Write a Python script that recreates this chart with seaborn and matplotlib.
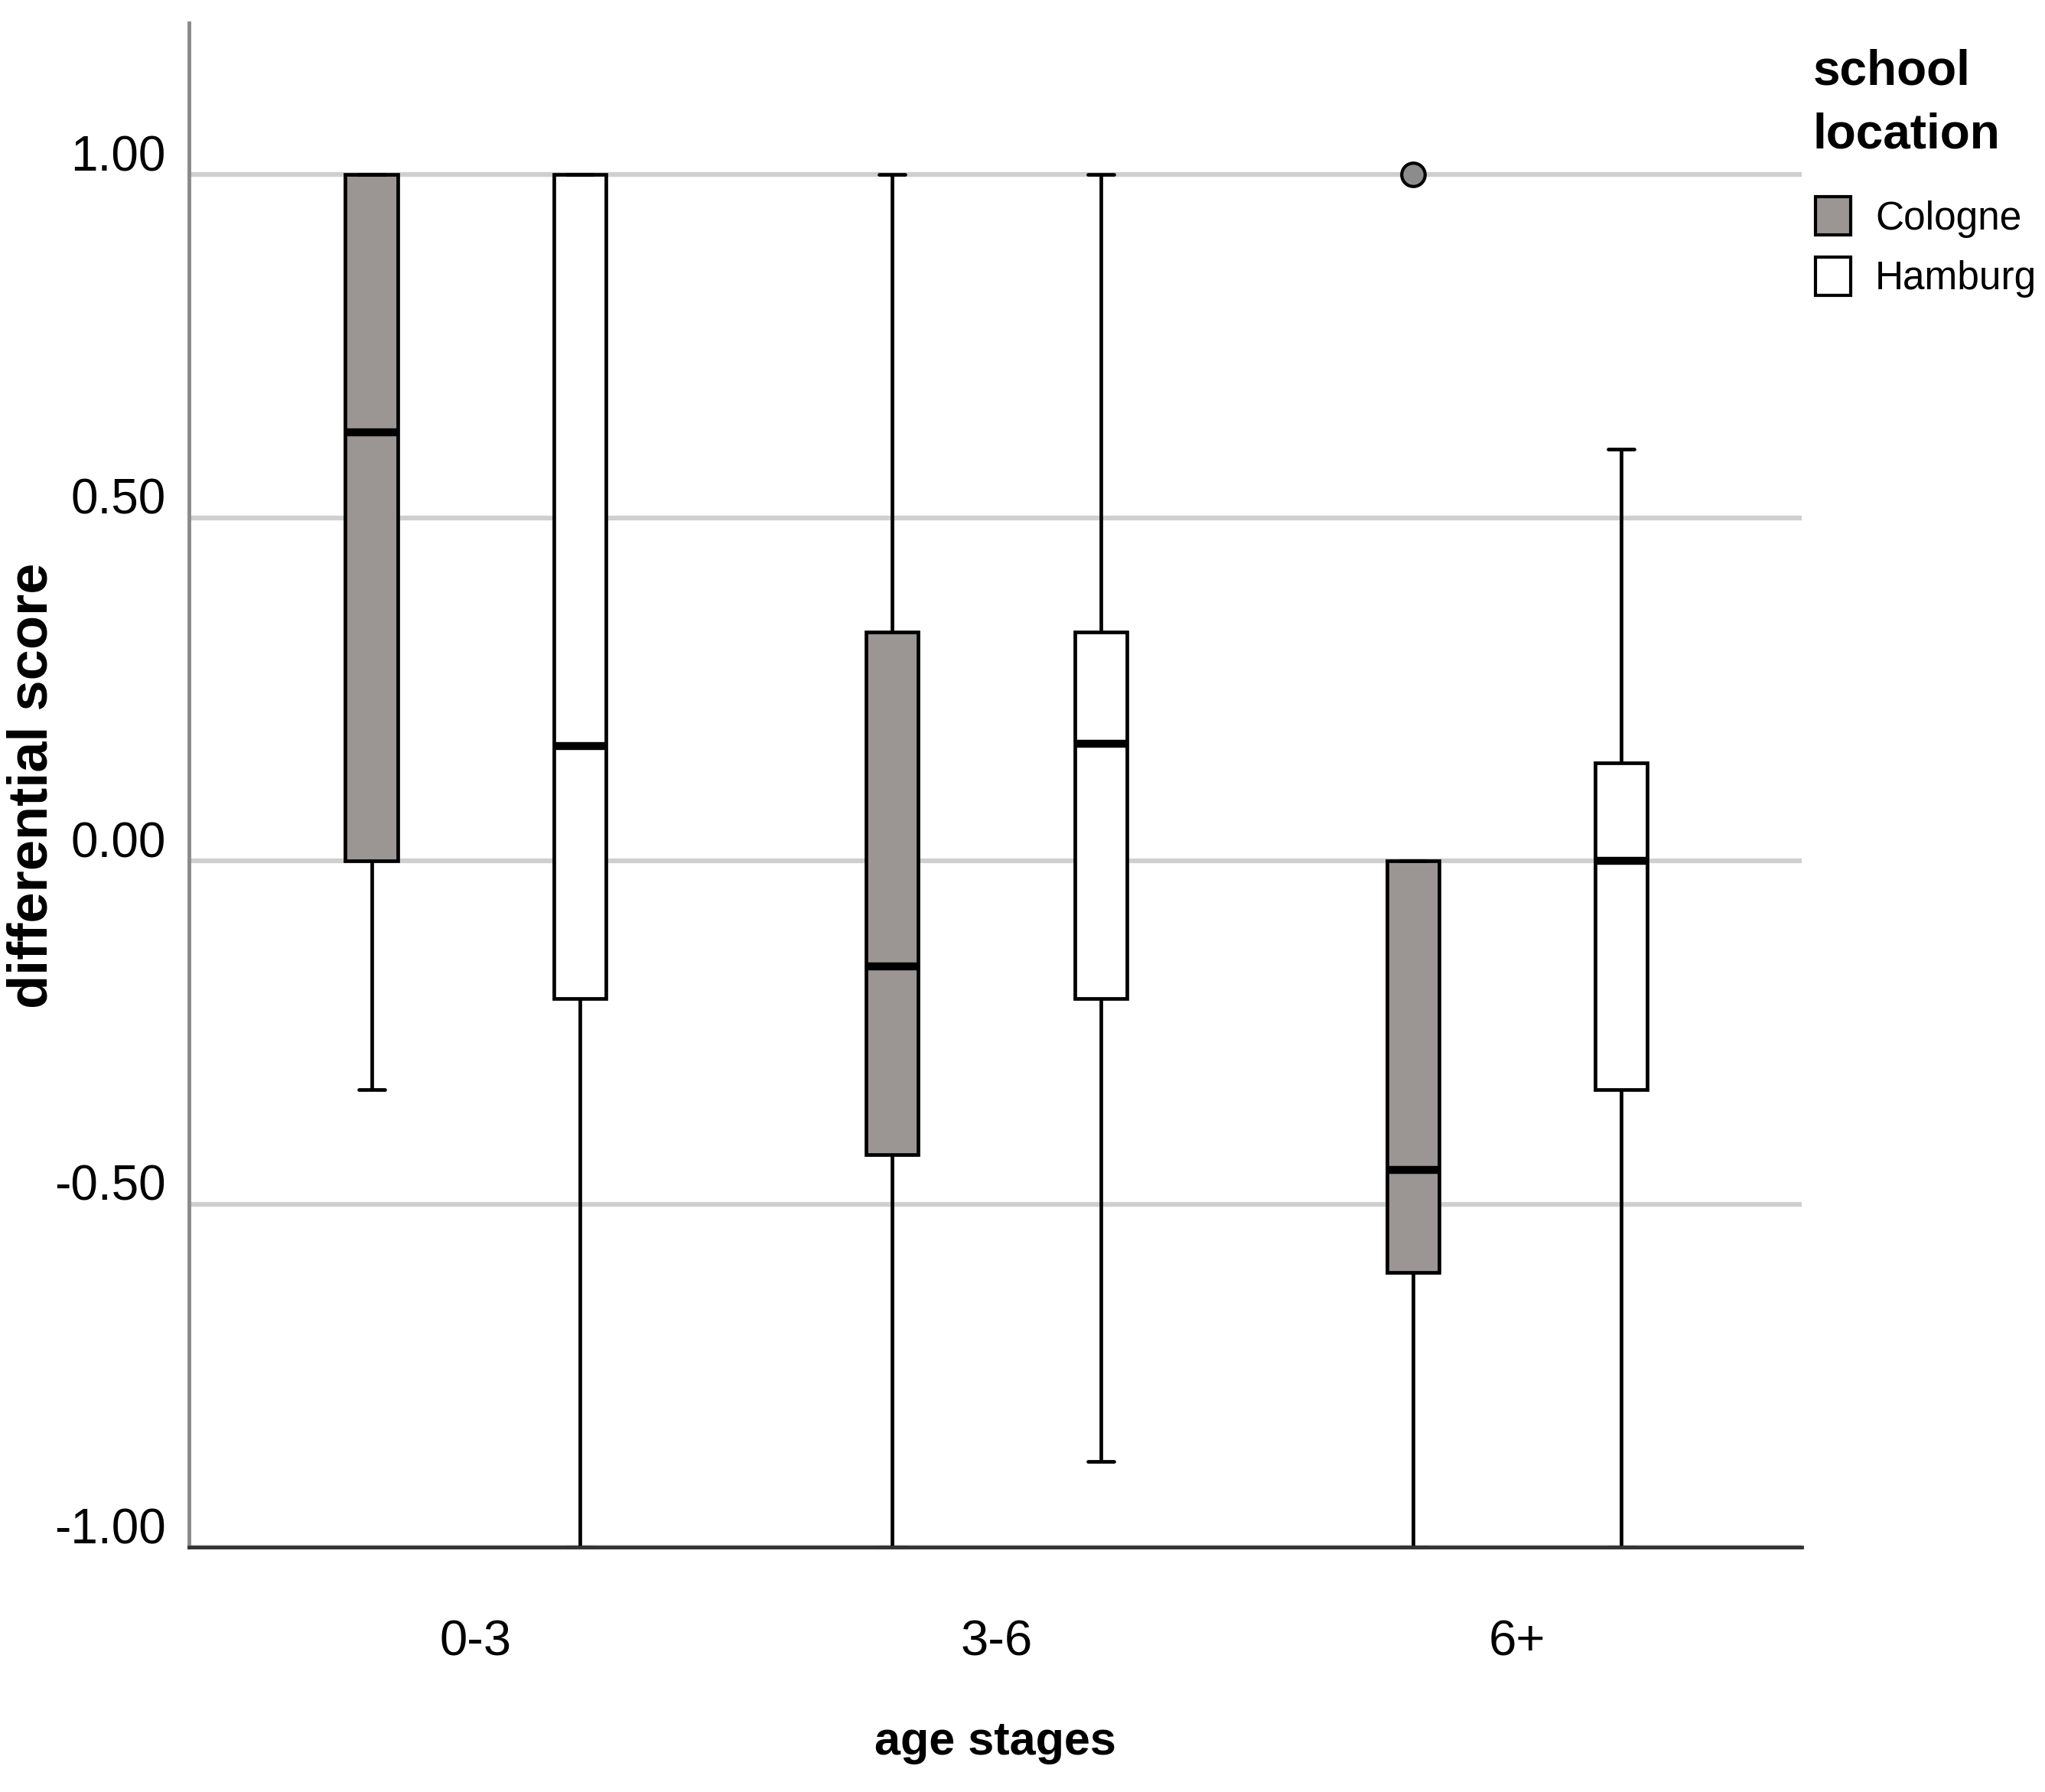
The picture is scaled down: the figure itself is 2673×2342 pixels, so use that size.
import numpy as np
import pandas as pd
import matplotlib
matplotlib.use("Agg")
import matplotlib.pyplot as plt
from matplotlib.transforms import ScaledTranslation
from matplotlib.patches import Patch
import seaborn as sns

# ---- data ----
age_stages = ["0-3", "3-6", "6+"]
locations = ["Cologne", "Hamburg"]
# samples per group: [low whisker, q1, median, q3, high whisker/outlier]
cologne_0_3 = [-0.333, 0.0, 0.625, 1.0, 1.0]
hamburg_0_3 = [-1.0, -0.2, 0.167, 1.0, 1.0]
cologne_3_6 = [-1.0, -0.428, -0.154, 0.333, 1.0]
hamburg_3_6 = [-0.875, -0.2, 0.171, 0.333, 1.0]
cologne_6p = [-1.0, -0.6, -0.45, 0.0, 1.0]
hamburg_6p = [-1.0, -0.333, 0.0, 0.143, 0.6]
y_ticks = [-1.0, -0.5, 0.0, 0.5, 1.0]
y_tick_labels = ["-1.00", "-0.50", "0.00", "0.50", "1.00"]

groups = {
    ("0-3", "Cologne"): cologne_0_3,
    ("0-3", "Hamburg"): hamburg_0_3,
    ("3-6", "Cologne"): cologne_3_6,
    ("3-6", "Hamburg"): hamburg_3_6,
    ("6+", "Cologne"): cologne_6p,
    ("6+", "Hamburg"): hamburg_6p,
}
rows = []
for (age, loc), vals in groups.items():
    for v in vals:
        rows.append({"age stages": age, "school location": loc, "differential score": v})
df = pd.DataFrame(rows)

sns.set_style("white")
plt.rcParams["font.family"] = ["Liberation Sans", "DejaVu Sans"]
plt.rcParams["text.color"] = "black"
plt.rcParams["axes.labelcolor"] = "black"
plt.rcParams["xtick.color"] = "black"
plt.rcParams["ytick.color"] = "black"

W, H = 2673, 2342
dpi = 100
fig = plt.figure(figsize=(W / dpi, H / dpi), dpi=dpi)
ax = fig.add_axes([0.0925, 0.1366, 0.881 - 0.0925, 0.987 - 0.1366])

palette = {"Cologne": "#9b9593", "Hamburg": "#ffffff"}
sns.boxplot(
    data=df, x="age stages", y="differential score", hue="school location",
    order=age_stages, hue_order=locations,
    palette=palette,
    width=0.8, gap=0.75, whis=1.5,
    linecolor="black", linewidth=3.4,
    fliersize=22,
    flierprops=dict(marker="o", markerfacecolor="#8c8c8c",
                    markeredgecolor="black", markeredgewidth=3),
    medianprops=dict(linewidth=7.5, color="black"),
    saturation=1.0,
    legend=False,
    ax=ax,
)

ax.set_xlim(-0.55, 2.546)
ax.set_ylim(-1.0, 1.2205)
ax.set_yticks(y_ticks)
ax.set_yticklabels(y_tick_labels)
ax.yaxis.grid(True, color="#cfcfcf", linewidth=4.5)
ax.xaxis.grid(False)
ax.set_axisbelow(True)

for s in ["top", "right"]:
    ax.spines[s].set_visible(False)
ax.spines["left"].set_color("#8a8a8a")
ax.spines["left"].set_linewidth(3.5)
ax.spines["bottom"].set_color("#333333")
ax.spines["bottom"].set_linewidth(3.5)

ax.tick_params(axis="both", length=0)
ax.tick_params(axis="y", pad=22)
ax.tick_params(axis="x", pad=68)
lift = ScaledTranslation(0, 5 / dpi, fig.dpi_scale_trans)
for t in ax.get_yticklabels():
    t.set_fontsize(46)
    t.set_va("baseline")
    t.set_transform(t.get_transform() + lift)
for t in ax.get_xticklabels():
    t.set_fontsize(47)

ax.set_xlabel("age stages", fontsize=44, fontweight="bold", labelpad=52)
ax.set_ylabel("differential score", fontsize=52, fontweight="bold")
ax.yaxis.set_label_coords(-0.081, 0.5)

# legend (title drawn as text, entries with the palette colours)
fig.text(1390 / 1568, 1 - 37 / 1374, "school\nlocation", ha="left", va="top",
         fontsize=46, fontweight="bold", linespacing=1.5)
handles = [Patch(facecolor=palette[l], edgecolor="black", linewidth=3) for l in locations]
leg = fig.legend(
    handles, locations,
    loc="upper left", bbox_to_anchor=(1392 / 1568, 1 - 151 / 1374),
    frameon=False, fontsize=37,
    handlelength=0.9, handleheight=1.1, handletextpad=0.62,
    labelspacing=0.5, borderaxespad=0, borderpad=0,
)

fig.savefig("out.png", dpi=dpi, facecolor="white")
